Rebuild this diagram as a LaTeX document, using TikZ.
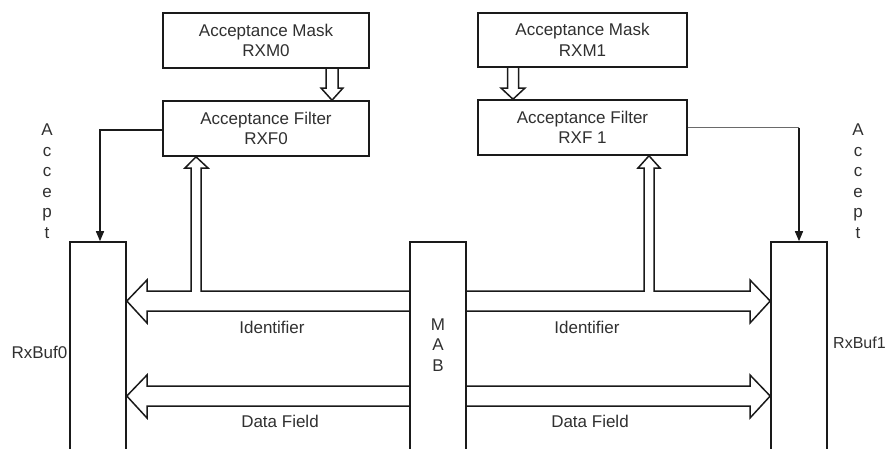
\documentclass[tikz,border=0pt]{standalone}
\usepackage{fontspec}
\setmainfont{Liberation Sans}
\usetikzlibrary{arrows.meta}
\definecolor{canfg}{HTML}{1A1A1A}
\definecolor{cantext}{HTML}{303030}
\definecolor{canthin}{HTML}{6A6A6A}

\begin{document}
\begin{tikzpicture}[x=1pt,y=-1pt,>={Triangle[length=10pt,width=8pt]},font=\fontsize{17}{20.5}\selectfont]
  \tikzstyle{block}=[draw=canfg, line width=1.6pt, fill=white, align=center, inner sep=0pt, text=cantext]
  \tikzstyle{buffer}=[draw=canfg, line width=1.6pt, minimum width=56pt, minimum height=218pt, inner sep=0pt]
  \tikzstyle{bus}=[draw=canfg, line width=1.5pt, line join=miter]
  \tikzstyle{accept}=[->, draw=canfg, line width=1.5pt]
  \tikzstyle{plainlabel}=[text=cantext, inner sep=0pt]
  \tikzstyle{vertlabel}=[text=cantext, inner sep=0pt, align=center]

  \clip (0,0) rectangle (889,448);

  % mask and filter registers
  \node[block, minimum width=206pt, minimum height=55pt] (mask0) at (266,40.5) {Acceptance Mask\\RXM0};
  \node[block, minimum width=206pt, minimum height=55pt] (filter0) at (266,128.5) {Acceptance Filter\\RXF0};
  \node[block, minimum width=209pt, minimum height=54pt] (mask1) at (582.5,40) {Acceptance Mask\\RXM1};
  \node[block, minimum width=209pt, minimum height=55pt] (filter1) at (582.5,127.5) {Acceptance Filter\\RXF 1};

  % buffers and MAB
  \node[buffer] (buf0) at (98,351) {};
  \node[buffer] (mab) at (438,351) {};
  \node[buffer] (buf1) at (799,351) {};
  \node[vertlabel] (mabtext) at (mab.center |- 0,345) {M\\A\\B};
  \node[plainlabel] (buf0text) at (39.5,352) {RxBuf0};
  \node[plainlabel, anchor=west, font=\fontsize{16}{19}\selectfont] (buf1text) at (833,343) {RxBuf1};
  \node[vertlabel, anchor=north] (accept0) at (47,124) {A\\c\\c\\e\\p\\t};
  \node[vertlabel, anchor=north] (accept1) at (858,124) {A\\c\\c\\e\\p\\t};

  % mask -> filter
  \draw[bus] (326,0 |- mask0.south) -- (326,88) -- (321,88) -- (332,0 |- filter0.north) -- (343,88) -- (338,88) -- (338,0 |- mask0.south);
  \draw[bus] (507.5,0 |- mask1.south) -- (507.5,88) -- (501,88) -- (513,0 |- filter1.north) -- (525,88) -- (518.5,88) -- (518.5,0 |- mask1.south);

  % identifier buses
  \draw[bus] (mab.west |- 0,291) -- (201,291) -- (201,168) -- (208,168) -- (196,0 |- filter0.south) -- (185,168) -- (191,168) -- (191,291) -- (147,291) -- (147,280) -- (buf0.east |- 0,301) -- (147,323) -- (147,311) -- (mab.west |- 0,311);
  \draw[bus] (mab.east |- 0,291) -- (644,291) -- (644,168) -- (638,168) -- (649,0 |- filter1.south) -- (660,168) -- (654,168) -- (654,291) -- (750,291) -- (750,280) -- (buf1.west |- 0,301) -- (750,323) -- (750,311) -- (mab.east |- 0,311);
  \node[plainlabel] (idtext0) at (272,327) {Identifier};
  \node[plainlabel] (idtext1) at (587,327) {Identifier};

  % data field buses
  \draw[bus] (mab.west |- 0,386) -- (147,386) -- (147,375) -- (buf0.east |- 0,396) -- (147,418) -- (147,406) -- (mab.west |- 0,406);
  \draw[bus] (mab.east |- 0,386) -- (750,386) -- (750,375) -- (buf1.west |- 0,396) -- (750,418) -- (750,406) -- (mab.east |- 0,406);
  \node[plainlabel] (datatext0) at (280,421) {Data Field};
  \node[plainlabel] (datatext1) at (590,421) {Data Field};

  % accept lines
  \draw[accept] (filter0.west |- 0,130) -| (buf0.north -| 100,0);
  \coordinate (bend1) at (buf1.north |- filter1.east);
  \draw[draw=canthin, line width=1pt] (filter1.east) -- (bend1);
  \draw[accept] (bend1) -- (buf1.north);
\end{tikzpicture}
\end{document}
